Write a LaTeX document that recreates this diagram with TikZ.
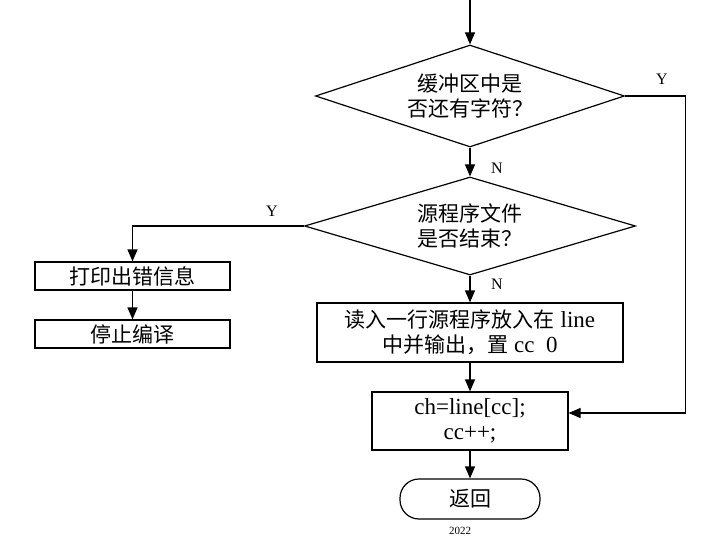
\documentclass[tikz,border=0pt]{standalone}
\usepackage{fontspec}
\setmainfont{Liberation Serif}
\newfontfamily\cjk{Noto Sans CJK SC}
\newcommand\zh[1]{{\cjk\fontsize{21}{25}\selectfont #1}}
\usetikzlibrary{shapes.geometric,arrows.meta}
\begin{document}
\begin{tikzpicture}[x=1pt,y=-1pt,
  every node/.style={font=\fontsize{23}{25}\selectfont},
  ln/.style={line width=1.2pt},
  arr/.style={ln,-{Triangle[length=12pt,width=10pt]}},
  dia/.style={draw,ln,diamond,inner sep=0pt,align=center},
  boxn/.style={draw,ln,rectangle,align=center,inner sep=0pt},
  lab/.style={font=\fontsize{16}{18}\selectfont}]
\useasboundingbox (0,0) rectangle (720,540);
\coordinate (start) at (470,0);
\node[dia,aspect=3.03,minimum width=309pt,minimum height=102pt] (d1) at (470,96) {\zh{缓冲区中是}\\\zh{否还有字符？}};
\node[dia,aspect=3.38,minimum width=331pt,minimum height=98pt] (d2) at (470,226) {\zh{源程序文件}\\\zh{是否结束？}};
\node[boxn,minimum width=195pt,minimum height=28pt] (p1) at (132.5,276) {\zh{打印出错信息}};
\node[boxn,minimum width=195pt,minimum height=28pt] (p2) at (132.5,334) {\zh{停止编译}};
\node[boxn,minimum width=306pt,minimum height=59pt] (b3) at (470,332.5) {\zh{读入一行源程序放入在} line\\\zh{中并输出，置} cc\ \ 0};
\node[boxn,minimum width=196pt,minimum height=58pt] (b4) at (470,421) {ch=line[cc];\\cc++;};
\node[draw,ln,rounded corners=19pt,minimum width=140pt,minimum height=40pt,inner sep=0pt] (t) at (470,499) {\zh{返回}};
\draw[arr] (start) -- (d1.north);
\draw[arr] (d1.south) -- (d2.north);
\draw[arr] (d2.south) -- (b3.north);
\draw[arr] (b3.south) -- (b4.north);
\draw[arr] (b4.south) -- (t.north);
\draw[arr] (d1.east) -- ++(60,0) coordinate (r1) |- ([yshift=8pt]b4.east);
\draw[arr] (d2.west) -| (p1.north);
\draw[arr] (p1.south) -- (p2.north);
\node[lab] (y1) at (662,79) {Y};
\node[lab] (n1) at (497,168) {N};
\node[lab] (y2) at (272,211) {Y};
\node[lab] (n2) at (497,284) {N};
\node[font=\fontsize{11}{13}\selectfont] (yr) at (460,531) {2022};
\end{tikzpicture}
\end{document}
